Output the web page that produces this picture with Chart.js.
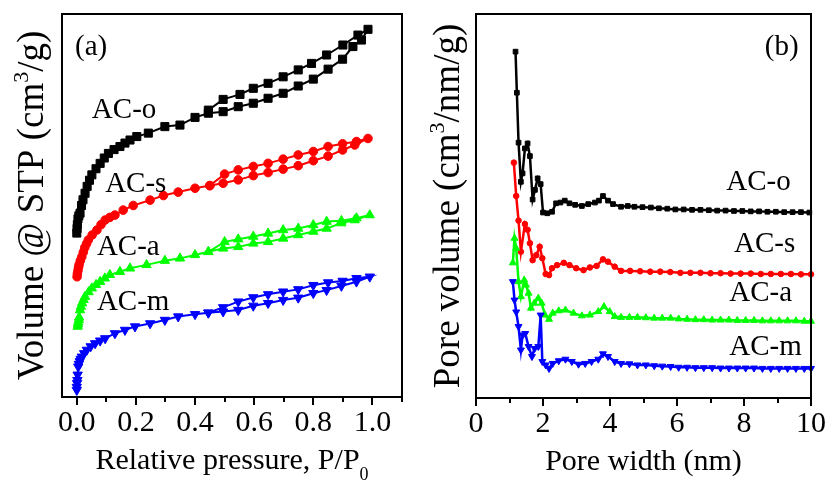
<!DOCTYPE html>
<html>
<head>
<meta charset="utf-8">
<script src="https://cdn.jsdelivr.net/npm/chart.js@4"></script>
<style>
  html, body { margin: 0; padding: 0; background: #ffffff; }
  #wrap { position: relative; width: 834px; height: 482px; }
  canvas { position: absolute; top: 0; }
  #cA { left: 0; }
  #cB { left: 417px; }
</style>
</head>
<body>
<div id="wrap">
  <canvas id="cA" width="417" height="482"></canvas>
  <canvas id="cB" width="417" height="482"></canvas>
</div>
<script>
// ---------- (a) N2 isotherms: adsorption branch, then desorption branch ----------
// relative pressure P/P0 and adsorbed volume (curves offset, arbitrary units)
const pressO = [0.000,0.001,0.002,0.004,0.007,0.011,0.016,0.021,0.028,0.035,0.043,0.051,0.065,0.079,0.093,0.107,0.126,0.146,0.163,0.180,0.203,0.242,0.298,0.349,0.400,0.445,0.495,0.546,0.597,0.647,0.698,0.749,0.800,0.850,0.899,0.934,0.963,0.985,
                0.951,0.900,0.845,0.794,0.749,0.698,0.647,0.597,0.552,0.495,0.445];
const volO   = [42.8,44.0,45.0,46.5,47.3,48.0,50.0,51.5,53.2,55.0,56.6,58.0,59.6,61.0,62.4,63.6,64.6,65.4,66.3,67.1,68.0,68.9,70.6,71.0,73.0,74.1,74.5,75.8,76.7,78.0,79.3,81.2,83.0,85.6,88.2,91.5,93.2,96.0,
                94.5,91.9,89.3,87.1,85.4,83.6,81.9,80.6,79.0,77.7,74.9];

const pressS = [0.001,0.002,0.004,0.006,0.008,0.012,0.017,0.022,0.027,0.033,0.039,0.052,0.068,0.082,0.096,0.112,0.129,0.157,0.191,0.248,0.293,0.343,0.400,0.450,0.495,0.546,0.597,0.647,0.698,0.749,0.800,0.850,0.899,0.940,0.985,
                0.946,0.899,0.850,0.800,0.749,0.698,0.647,0.597,0.546,0.500,0.450];
const volS   = [31.4,32.2,33.0,33.9,34.6,35.6,36.6,37.8,39.0,40.0,41.0,42.3,43.6,45.0,46.2,46.9,47.5,48.8,50.0,51.4,52.6,53.5,54.5,55.2,55.8,56.7,57.8,58.6,59.5,60.4,61.7,62.9,64.5,65.8,67.5,
                66.7,66.1,65.4,64.1,63.2,62.1,61.0,60.2,59.3,58.2,55.2];

const pressA = [0.003,0.004,0.005,0.007,0.008,0.011,0.014,0.018,0.023,0.028,0.040,0.051,0.065,0.079,0.095,0.112,0.146,0.180,0.236,0.298,0.349,0.400,0.445,0.495,0.546,0.597,0.647,0.698,0.749,0.800,0.845,0.895,0.940,0.991,
                0.946,0.895,0.845,0.800,0.749,0.698,0.647,0.597,0.546,0.500,0.445];
const volA   = [18.4,19.0,19.5,20.2,20.8,22.7,23.6,24.5,25.4,26.2,27.4,28.4,29.3,30.1,31.0,31.9,32.7,33.6,34.5,35.6,36.2,37.1,37.9,38.8,39.2,40.1,40.5,41.4,42.3,43.2,44.0,45.4,46.2,47.5,
                46.7,46.0,45.8,44.9,44.0,43.6,42.7,41.9,41.2,40.5,37.9];

const pressM = [0.000,0.000,0.001,0.002,0.003,0.005,0.007,0.010,0.013,0.017,0.025,0.034,0.047,0.062,0.079,0.096,0.129,0.163,0.197,0.248,0.298,0.343,0.400,0.445,0.495,0.546,0.597,0.647,0.698,0.749,0.800,0.845,0.895,0.946,0.991,
                0.946,0.899,0.850,0.800,0.749,0.698,0.647,0.597,0.546,0.495,0.445];
const volM   = [1.8,2.6,3.6,4.4,5.8,7.9,8.6,9.3,9.9,10.5,11.4,12.3,13.2,14.0,14.7,15.3,16.6,17.5,18.4,19.2,20.1,21.0,21.6,22.0,22.3,22.7,23.8,24.5,25.3,25.9,27.1,27.9,29.0,30.1,31.4,
                31.0,30.3,29.9,29.2,28.1,27.5,26.8,26.0,24.9,23.4,22.0];

// ---------- (b) pore size distributions (pore width in nm, offset pore volume) ----------
const widthO = [1.18,1.22,1.27,1.34,1.39,1.46,1.54,1.61,1.69,1.76,1.84,1.93,2.00,2.13,2.27,2.39,2.52,2.65,2.79,2.96,
                3.16,3.35,3.55,3.67,3.79,3.94,4.09,4.33,4.53,4.73,4.97,5.22,5.46,5.71,5.95,6.20,6.45,6.70,6.95,7.20,
                7.45,7.70,7.95,8.20,8.45,8.70,8.95,9.20,9.45,9.70,9.95];
const poreO  = [90.2,79.5,66.5,56.3,58.5,65.0,66.3,63.0,51.7,54.2,57.2,55.7,48.3,48.1,48.5,50.7,50.9,51.4,50.7,50.3,
                50.0,50.5,50.9,51.4,52.6,51.4,50.5,49.8,50.0,49.8,49.7,49.6,49.4,49.3,49.1,49.1,49.0,49.0,48.9,48.8,
                48.8,48.7,48.7,48.6,48.6,48.5,48.5,48.4,48.4,48.4,48.3];

const widthS = [1.13,1.20,1.27,1.34,1.46,1.54,1.61,1.69,1.80,1.90,1.98,2.08,2.18,2.27,2.42,2.62,2.79,2.99,3.21,3.40,
                3.60,3.79,3.94,4.14,4.33,4.60,4.90,5.20,5.50,5.80,6.10,6.40,6.70,7.00,7.30,7.60,7.90,8.20,8.50,8.80,
                9.10,9.40,9.70,10.00];
const poreS  = [61.3,52.6,46.2,38.1,45.3,43.8,40.3,35.9,37.2,39.4,36.4,32.3,32.0,33.8,34.6,35.2,34.6,33.8,33.3,34.0,
                34.4,36.1,35.5,34.2,33.1,33.1,33.0,32.9,32.9,32.8,32.6,32.6,32.6,32.5,32.5,32.4,32.4,32.4,32.3,32.3,
                32.3,32.3,32.2,32.2];

const widthA = [1.10,1.15,1.20,1.27,1.34,1.44,1.49,1.57,1.64,1.74,1.86,1.96,2.06,2.18,2.29,2.47,2.67,2.91,3.16,3.40,
                3.65,3.82,3.99,4.14,4.33,4.58,4.82,5.07,5.32,5.56,5.81,6.05,6.30,6.55,6.80,7.05,7.30,7.55,7.80,8.05,
                8.30,8.55,8.80,9.05,9.30,9.55,9.80,10.00];
const poreA  = [35.2,41.6,39.0,30.3,26.4,30.7,29.4,27.3,23.4,24.7,26.0,24.7,21.6,20.5,22.1,22.7,22.9,22.1,21.4,21.6,
                22.5,23.8,22.5,21.2,21.0,21.0,21.0,20.9,20.8,20.8,20.8,20.6,20.5,20.4,20.4,20.3,20.3,20.3,20.2,20.2,
                20.2,20.1,20.1,20.1,20.1,20.1,20.0,20.0];

const widthM = [1.10,1.15,1.20,1.27,1.34,1.39,1.47,1.57,1.67,1.75,1.86,1.93,1.98,2.08,2.18,2.29,2.47,2.67,2.86,3.06,
                3.26,3.45,3.65,3.79,3.94,4.14,4.33,4.58,4.82,5.07,5.32,5.56,5.81,6.05,6.30,6.55,6.80,7.05,7.30,7.55,
                7.80,8.05,8.30,8.55,8.80,9.05,9.30,9.55,9.80,10.00];
const poreM  = [30.3,25.5,22.4,18.6,12.5,16.4,16.8,13.4,10.8,12.9,13.4,21.6,9.5,8.6,7.7,9.0,9.7,10.1,9.5,8.8,
                9.0,9.5,10.1,11.5,10.8,9.5,9.0,8.9,8.6,8.6,8.4,8.3,8.2,8.0,8.0,7.9,7.9,7.9,7.8,7.8,
                7.8,7.8,7.8,7.7,7.7,7.7,7.7,7.7,7.7,7.7];

// ---------- series and axis labels ----------
const sampleNames  = ['AC-o', 'AC-s', 'AC-a', 'AC-m'];
const sampleColors = ['#000000', '#ff0000', '#00ff00', '#0000ff'];
const xTicksA      = [0, 0.2, 0.4, 0.6, 0.8, 1.0];
const xTickLabelsA = ['0.0', '0.2', '0.4', '0.6', '0.8', '1.0'];
const xMinorA      = [0.1, 0.3, 0.5, 0.7, 0.9, 1.1];
const xTicksB      = [0, 2, 4, 6, 8, 10];
const xTickLabelsB = ['0', '2', '4', '6', '8', '10'];
const xMinorB      = [1, 3, 5, 7, 9];

const FONT = '"Liberation Serif", "Times New Roman", serif';

function zip(xs, ys) {
  const n = Math.min(xs.length, ys.length);
  const out = [];
  for (let i = 0; i < n; i++) out.push({ x: xs[i], y: ys[i] });
  return out;
}

// text with optional raised / lowered parts, centred on (cx, cy)
function drawRich(ctx, segs, cx, cy, rot, size) {
  ctx.save();
  ctx.translate(cx, cy);
  ctx.rotate(rot);
  ctx.textAlign = 'left';
  ctx.textBaseline = 'alphabetic';
  let total = 0;
  const parts = segs.map(s => {
    const fs = s.shift ? Math.round(size * 0.6) : size;
    ctx.font = fs + 'px ' + FONT;
    const w = ctx.measureText(s.t).width;
    total += w;
    return { s, fs, w };
  });
  let xx = -total / 2;
  parts.forEach(p => {
    ctx.font = p.fs + 'px ' + FONT;
    ctx.fillText(p.s.t, xx, p.s.shift ? p.s.shift * size : 0);
    xx += p.w;
  });
  ctx.restore();
}

function decorations(p) {
  return {
    id: 'panelDecor',
    afterDraw(chart) {
      const { ctx, chartArea: a, scales: { x, y } } = chart;
      ctx.save();
      ctx.strokeStyle = '#000';
      ctx.lineWidth = 2;
      ctx.strokeRect(a.left, a.top, a.right - a.left, a.bottom - a.top);
      ctx.beginPath();
      p.major.forEach(v => {
        const px = Math.round(x.getPixelForValue(v));
        ctx.moveTo(px, a.bottom); ctx.lineTo(px, a.bottom + 8);
      });
      p.minor.forEach(v => {
        const px = Math.round(x.getPixelForValue(v));
        ctx.moveTo(px, a.bottom); ctx.lineTo(px, a.bottom + 5);
      });
      ctx.stroke();

      ctx.fillStyle = '#000';
      ctx.textAlign = 'left';
      ctx.textBaseline = 'alphabetic';
      ctx.font = '29px ' + FONT;
      p.notes.forEach(n => {
        ctx.fillText(n.text, x.getPixelForValue(n.x), y.getPixelForValue(n.y));
      });

      drawRich(ctx, p.xTitle, (a.left + a.right) / 2, a.bottom + p.xTitleGap, 0, 30);
      drawRich(ctx, p.yTitle, a.left - p.yTitleGap, (a.top + a.bottom) / 2, -Math.PI / 2, p.yTitleSize);
      ctx.restore();
    }
  };
}

function makeDataset(i, data, style) {
  return {
    label: sampleNames[i],
    data,
    showLine: true,
    borderColor: sampleColors[i],
    backgroundColor: sampleColors[i],
    borderWidth: style.line,
    pointStyle: style.shape[i],
    pointRotation: i === 3 ? 180 : 0,
    pointRadius: style.radius[i],
    pointBorderWidth: 1,
    pointBorderColor: sampleColors[i],
    pointBackgroundColor: sampleColors[i],
    tension: 0,
    order: 3 - i,
    clip: false
  };
}

function makeChart(el, cfg) {
  return new Chart(el, {
    type: 'scatter',
    data: { datasets: cfg.datasets },
    options: {
      responsive: false,
      animation: false,
      devicePixelRatio: 1,
      layout: { padding: { left: 0, right: cfg.padRight, top: 14, bottom: 0 } },
      plugins: { legend: { display: false }, tooltip: { enabled: false } },
      scales: {
        x: {
          type: 'linear',
          position: 'bottom',
          min: cfg.xMin,
          max: cfg.xMax,
          afterBuildTicks: s => { s.ticks = cfg.ticks.map(v => ({ value: v })); },
          afterFit: s => { s.height = cfg.xHeight; },
          grid: { display: false, drawTicks: false },
          border: { display: false },
          ticks: {
            autoSkip: false,
            maxRotation: 0,
            padding: 8,
            color: '#000',
            font: { family: FONT, size: 30 },
            callback: (v, i) => cfg.tickLabels[i]
          }
        },
        y: {
          type: 'linear',
          min: 0,
          max: 100,
          afterFit: s => { s.width = cfg.yWidth; },
          grid: { display: false, drawTicks: false },
          border: { display: false },
          ticks: { display: false }
        }
      }
    },
    plugins: [decorations(cfg.decor)]
  });
}

// panel (a): isotherms
const styleA = {
  line: 2,
  shape: ['rect', 'circle', 'triangle', 'triangle'],
  radius: [5.7, 4.3, 5.4, 5.4]
};
makeChart(document.getElementById('cA'), {
  datasets: [
    makeDataset(0, zip(pressO, volO), styleA),
    makeDataset(1, zip(pressS, volS), styleA),
    makeDataset(2, zip(pressA, volA), styleA),
    makeDataset(3, zip(pressM, volM), styleA)
  ],
  xMin: -0.05, xMax: 1.1,
  ticks: xTicksA, tickLabels: xTickLabelsA,
  padRight: 15, yWidth: 62, xHeight: 85,
  decor: {
    major: xTicksA, minor: xMinorA,
    notes: [
      { text: '(a)',          x: -0.006, y: 89.3 },
      { text: sampleNames[0], x: 0.051,  y: 72.8 },
      { text: sampleNames[1], x: 0.096,  y: 53.6 },
      { text: sampleNames[2], x: 0.068,  y: 37.1 },
      { text: sampleNames[3], x: 0.068,  y: 22.7 }
    ],
    xTitle: [{ t: 'Relative pressure, P/P' }, { t: '0', shift: 0.38 }],
    xTitleGap: 72,
    yTitle: [{ t: 'Volume @ STP (cm' }, { t: '3', shift: -0.4 }, { t: '/g)' }],
    yTitleGap: 19,
    yTitleSize: 37
  }
});

// panel (b): pore size distributions
const styleB = {
  line: 2.5,
  shape: ['rect', 'circle', 'triangle', 'triangle'],
  radius: [3.3, 2.8, 4, 4]
};
makeChart(document.getElementById('cB'), {
  datasets: [
    makeDataset(0, zip(widthO, poreO), styleB),
    makeDataset(1, zip(widthS, poreS), styleB),
    makeDataset(2, zip(widthA, poreA), styleB),
    makeDataset(3, zip(widthM, poreM), styleB)
  ],
  xMin: 0, xMax: 10,
  ticks: xTicksB, tickLabels: xTickLabelsB,
  padRight: 18, yWidth: 59, xHeight: 84,
  decor: {
    major: xTicksB, minor: xMinorB,
    notes: [
      { text: '(b)',          x: 8.62, y: 89.3 },
      { text: sampleNames[0], x: 7.47, y: 54.2 },
      { text: sampleNames[1], x: 7.70, y: 38.0 },
      { text: sampleNames[2], x: 7.56, y: 25.3 },
      { text: sampleNames[3], x: 7.56, y: 11.2 }
    ],
    xTitle: [{ t: 'Pore width (nm)' }],
    xTitleGap: 72,
    yTitle: [{ t: 'Pore volume (cm' }, { t: '3', shift: -0.4 }, { t: '/nm/g)' }],
    yTitleGap: 17,
    yTitleSize: 37
  }
});
</script>
</body>
</html>
